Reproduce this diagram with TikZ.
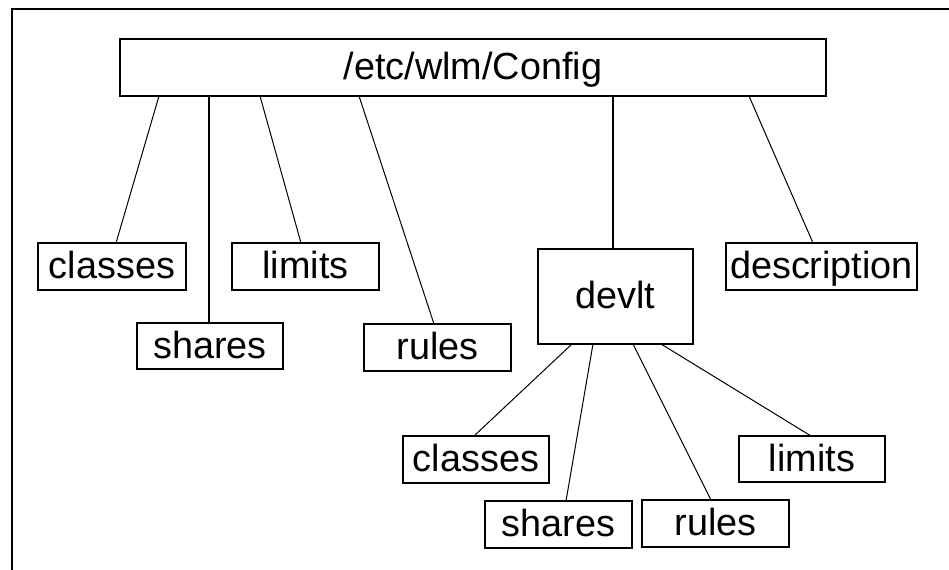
\documentclass[tikz,border=0pt]{standalone}
\usepackage{fontspec}
\setmainfont{Liberation Sans}
\begin{document}
\begin{tikzpicture}[x=1bp,y=-1bp,
  dirbox/.style={draw=black, line width=2bp, inner sep=0pt, outer sep=0pt,
    font=\fontsize{37.8bp}{40bp}\selectfont, align=center,
    text height=28bp, text depth=4bp},
  link/.style={draw=black, line width=1bp}]
\useasboundingbox (0,0) rectangle (949,570);
\fill[white] (0,0) rectangle (949,570);
\draw[line width=2.4bp] (12,570) -- (12,9) -- (949,9);

\node[dirbox, minimum width=706bp, minimum height=57bp] (config) at (473,67.5) {/etc/wlm/Config};
\node[dirbox, minimum width=148bp, minimum height=47bp] (classes) at (112,266.5) {classes};
\node[dirbox, minimum width=146bp, minimum height=46bp] (shares) at (210,346) {shares};
\node[dirbox, minimum width=147bp, minimum height=47bp] (limits) at (305.5,266.5) {limits};
\node[dirbox, minimum width=147bp, minimum height=47bp] (rules) at (437.5,347.5) {rules};
\node[dirbox, minimum width=155bp, minimum height=95bp] (devlt) at (615.5,296.5) {devlt};
\node[dirbox, minimum width=191bp, minimum height=47bp] (desc) at (821.5,266.5) {description};
\node[dirbox, minimum width=146bp, minimum height=47bp] (classesb) at (476,459.5) {classes};
\node[dirbox, minimum width=147bp, minimum height=47bp] (sharesb) at (558.5,524.5) {shares};
\node[dirbox, minimum width=147bp, minimum height=47bp] (rulesb) at (715.5,523.5) {rules};
\node[dirbox, minimum width=146bp, minimum height=46bp] (limitsb) at (812,459) {limits};

\draw[link] ([xshift=39bp]config.south west) -- ([xshift=78bp]classes.north west);
\draw[link, line width=1.6bp] ([xshift=89bp]config.south west) -- ([xshift=72bp]shares.north west);
\draw[link] ([xshift=140bp]config.south west) -- ([xshift=69bp]limits.north west);
\draw[link] ([xshift=239bp]config.south west) -- ([xshift=70bp]rules.north west);
\draw[link, line width=1.6bp] ([xshift=493bp]config.south west) -- ([xshift=75bp]devlt.north west);
\draw[link] ([xshift=629bp]config.south west) -- ([xshift=87bp]desc.north west);

\draw[link] ([xshift=34bp]devlt.south west) -- ([xshift=71bp]classesb.north west);
\draw[link] ([xshift=55bp]devlt.south west) -- ([xshift=81bp]sharesb.north west);
\draw[link] ([xshift=95bp]devlt.south west) -- ([xshift=69bp]rulesb.north west);
\draw[link] ([xshift=123bp]devlt.south west) -- ([xshift=72bp]limitsb.north west);
\end{tikzpicture}
\end{document}
